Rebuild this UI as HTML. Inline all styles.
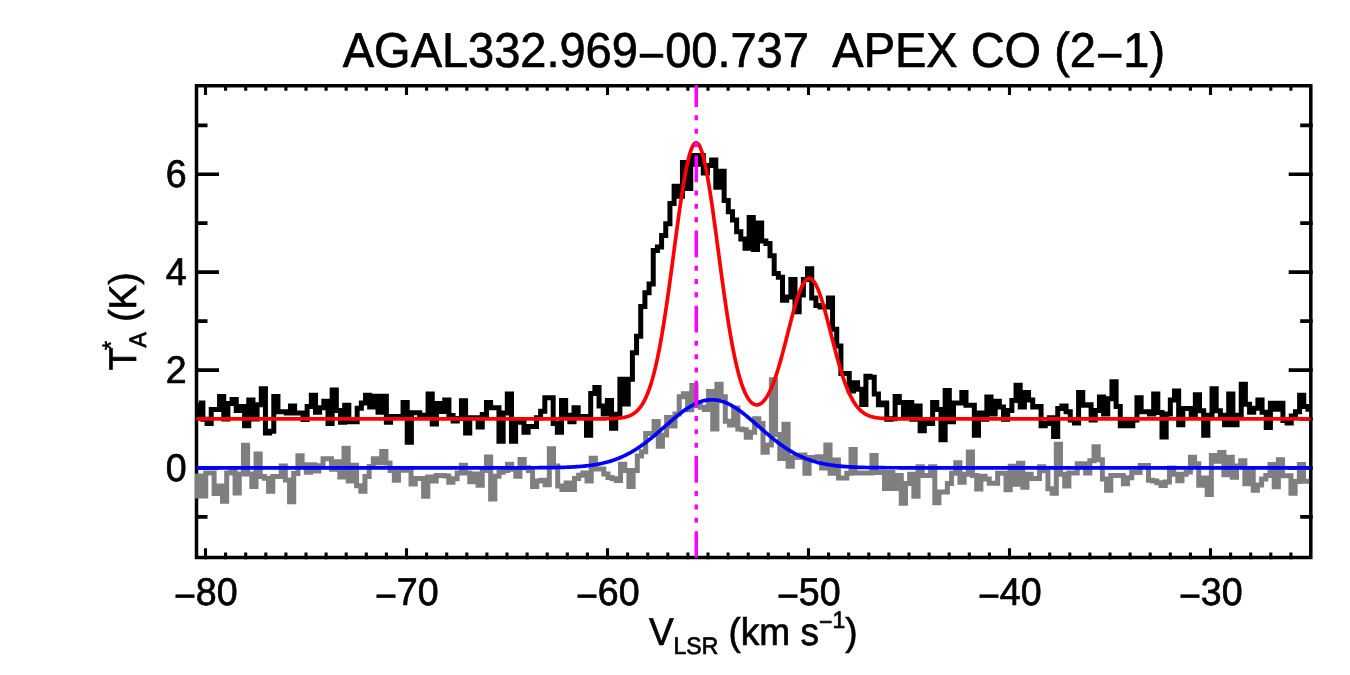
<!DOCTYPE html>
<html><head><meta charset="utf-8"><title>AGAL332.969-00.737 APEX CO (2-1)</title>
<style>
html,body{margin:0;padding:0;background:#fff;}
body{width:1350px;height:675px;overflow:hidden;}
svg{display:block;will-change:transform;transform:translateZ(0);}
text{font-family:"Liberation Sans",sans-serif;fill:#000;stroke:#000;stroke-width:0.7px;text-rendering:geometricPrecision;}
</style></head><body>
<svg width="1350" height="675" viewBox="0 0 1350 675">
<rect width="1350" height="675" fill="#fff"/>
<defs>
<clipPath id="cp"><rect x="194.3" y="84" width="1115" height="475.3"/></clipPath>
<clipPath id="cm"><rect x="190" y="85.3" width="20" height="472.4" transform="translate(496,0)"/></clipPath>
</defs>
<g transform="translate(342.8,66.6) scale(0.9744,1.015)"><text x="0" y="0" font-size="48.2" stroke="#000" stroke-width="0.9" xml:space="preserve">AGAL332.969<tspan dy="5">−</tspan><tspan dy="-5">00.737  APEX CO (2</tspan><tspan dy="5">−</tspan><tspan dy="-5">1)</tspan></text></g>
<rect x="196.5" y="85.75" width="1114.3" height="471.75" fill="none" stroke="#000" stroke-width="3.5"/>
<path d="M205.50,559.20v-11.00M205.50,84.00v11.00M225.60,559.20v-6.80M225.60,84.00v6.80M245.70,559.20v-6.80M245.70,84.00v6.80M265.80,559.20v-6.80M265.80,84.00v6.80M285.90,559.20v-6.80M285.90,84.00v6.80M306.00,559.20v-6.80M306.00,84.00v6.80M326.10,559.20v-6.80M326.10,84.00v6.80M346.20,559.20v-6.80M346.20,84.00v6.80M366.30,559.20v-6.80M366.30,84.00v6.80M386.40,559.20v-6.80M386.40,84.00v6.80M406.50,559.20v-11.00M406.50,84.00v11.00M426.60,559.20v-6.80M426.60,84.00v6.80M446.70,559.20v-6.80M446.70,84.00v6.80M466.80,559.20v-6.80M466.80,84.00v6.80M486.90,559.20v-6.80M486.90,84.00v6.80M507.00,559.20v-6.80M507.00,84.00v6.80M527.10,559.20v-6.80M527.10,84.00v6.80M547.20,559.20v-6.80M547.20,84.00v6.80M567.30,559.20v-6.80M567.30,84.00v6.80M587.40,559.20v-6.80M587.40,84.00v6.80M607.50,559.20v-11.00M607.50,84.00v11.00M627.60,559.20v-6.80M627.60,84.00v6.80M647.70,559.20v-6.80M647.70,84.00v6.80M667.80,559.20v-6.80M667.80,84.00v6.80M687.90,559.20v-6.80M687.90,84.00v6.80M708.00,559.20v-6.80M708.00,84.00v6.80M728.10,559.20v-6.80M728.10,84.00v6.80M748.20,559.20v-6.80M748.20,84.00v6.80M768.30,559.20v-6.80M768.30,84.00v6.80M788.40,559.20v-6.80M788.40,84.00v6.80M808.50,559.20v-11.00M808.50,84.00v11.00M828.60,559.20v-6.80M828.60,84.00v6.80M848.70,559.20v-6.80M848.70,84.00v6.80M868.80,559.20v-6.80M868.80,84.00v6.80M888.90,559.20v-6.80M888.90,84.00v6.80M909.00,559.20v-6.80M909.00,84.00v6.80M929.10,559.20v-6.80M929.10,84.00v6.80M949.20,559.20v-6.80M949.20,84.00v6.80M969.30,559.20v-6.80M969.30,84.00v6.80M989.40,559.20v-6.80M989.40,84.00v6.80M1009.50,559.20v-11.00M1009.50,84.00v11.00M1029.60,559.20v-6.80M1029.60,84.00v6.80M1049.70,559.20v-6.80M1049.70,84.00v6.80M1069.80,559.20v-6.80M1069.80,84.00v6.80M1089.90,559.20v-6.80M1089.90,84.00v6.80M1110.00,559.20v-6.80M1110.00,84.00v6.80M1130.10,559.20v-6.80M1130.10,84.00v6.80M1150.20,559.20v-6.80M1150.20,84.00v6.80M1170.30,559.20v-6.80M1170.30,84.00v6.80M1190.40,559.20v-6.80M1190.40,84.00v6.80M1210.50,559.20v-11.00M1210.50,84.00v11.00M1230.60,559.20v-6.80M1230.60,84.00v6.80M1250.70,559.20v-6.80M1250.70,84.00v6.80M1270.80,559.20v-6.80M1270.80,84.00v6.80M1290.90,559.20v-6.80M1290.90,84.00v6.80" stroke="#000" stroke-width="3.1" fill="none"/>
<path d="M195.00,516.90h12.50M1312.70,516.90h-12.50M195.00,467.95h24.00M1312.70,467.95h-24.00M195.00,419.00h12.50M1312.70,419.00h-12.50M195.00,370.05h24.00M1312.70,370.05h-24.00M195.00,321.10h12.50M1312.70,321.10h-12.50M195.00,272.15h24.00M1312.70,272.15h-24.00M195.00,223.20h12.50M1312.70,223.20h-12.50M195.00,174.25h24.00M1312.70,174.25h-24.00M195.00,125.30h12.50M1312.70,125.30h-12.50" stroke="#000" stroke-width="3.7" fill="none"/>
<g font-size="38.6"><text transform="translate(205.8,605.2) scale(0.975,1)" text-anchor="middle"><tspan dy="4">−</tspan><tspan dy="-4">80</tspan></text><text transform="translate(406.8,605.2) scale(0.975,1)" text-anchor="middle"><tspan dy="4">−</tspan><tspan dy="-4">70</tspan></text><text transform="translate(607.8,605.2) scale(0.975,1)" text-anchor="middle"><tspan dy="4">−</tspan><tspan dy="-4">60</tspan></text><text transform="translate(808.8,605.2) scale(0.975,1)" text-anchor="middle"><tspan dy="4">−</tspan><tspan dy="-4">50</tspan></text><text transform="translate(1009.8,605.2) scale(0.975,1)" text-anchor="middle"><tspan dy="4">−</tspan><tspan dy="-4">40</tspan></text><text transform="translate(1210.8,605.2) scale(0.975,1)" text-anchor="middle"><tspan dy="4">−</tspan><tspan dy="-4">30</tspan></text><text transform="translate(186.8,481.0) scale(0.975,1)" text-anchor="end">0</text><text transform="translate(186.8,383.1) scale(0.975,1)" text-anchor="end">2</text><text transform="translate(186.8,285.2) scale(0.975,1)" text-anchor="end">4</text><text transform="translate(186.8,187.3) scale(0.975,1)" text-anchor="end">6</text></g>
<g clip-path="url(#cp)" fill="none" stroke-linejoin="miter" stroke-linecap="butt">
<path d="M197.36,498.4V476.01H201.55V495.92H205.74V473.04H209.93V473.04H214.12V493.55H218.31V486.08H222.50V501.25H226.69V472.93H230.88V468.90H235.07V492.96H239.26V473.99H243.45V445.19H247.64V474.11H251.83V486.44H256.02V454.08H260.21V476.48H264.40V478.14H268.59V491.18H272.78V476.60H276.97V476.60H281.16V465.93H285.35V480.04H289.54V501.84H293.73V473.52H297.92V455.86H302.11V464.75H306.30V472.21H310.49V464.75H314.68V471.03H318.87V465.81H323.06V458.82H327.25V458.82H331.44V469.37H335.63V461.79H339.82V476.96H344.01V448.16H348.20V481.10H352.39V465.34H356.58V485.84H360.77V491.18H364.96V476.60H369.15V466.53H373.34V458.82H377.53V462.85H381.72V451.47H385.91V462.97H390.10V470.56H394.29V480.27H398.48V470.20H402.67V470.20H406.86V470.20H411.05V484.07H415.24V478.38H419.43V478.38H423.62V496.27H427.81V477.07H432.00V481.10H436.19V475.41H440.38V475.41H444.57V475.89H448.76V482.29H452.95V478.73H457.14V472.93H461.33V465.34H465.52V472.93H469.71V481.81H473.90V474.11H478.09V485.25H482.28V470.56H486.47V457.04H490.66V498.88H494.85V476.36H499.04V472.33H503.23V470.56H507.42V464.16H511.61V469.37H515.80V476.36H519.99V459.41H524.18V467.71H528.37V470.56H532.56V486.44H536.75V481.10H540.94V480.16H545.13V484.66H549.32V448.75H553.51V465.93H557.70V485.96H561.89V489.40H566.08V483.12H570.27V489.40H574.46V478.38H578.65V475.30H582.84V473.04H587.03V481.10H591.22V458.23H595.41V468.90H599.60V468.90H603.79V474.11H607.98V477.55H612.17V478.85H616.36V480.51H620.55V464.16H624.74V470.56H628.93V486.44H633.12V470.44H637.31V455.97H641.50V451.82H645.69V433.45H649.88V433.45H654.07V421.60H658.26V446.25H662.45V435.11H666.64V417.45H670.83V426.10H675.02V413.90H679.21V396.71H683.40V393.75H687.59V409.63H691.78V385.45H695.97V405.48H700.16V407.26H704.35V409.51H708.54V391.38H712.73V429.07H716.92V384.27H721.11V396.71H725.30V421.36H729.49V424.92H733.68V407.97H737.87V429.07H742.06V429.78H746.25V437.36H750.44V432.15H754.63V418.64H758.82V423.38H763.01V452.18H767.20V445.07H771.39V379.70H775.58V434.41H779.77V458.47H783.96V424.34H788.15V466.18H792.34V457.41H796.53V457.41H800.72V455.04H804.91V473.29H809.10V457.41H813.29V457.41H817.48V456.81H821.67V467.96H825.86V445.08H830.05V473.29H834.24V459.90H838.43V478.03H842.62V478.03H846.81V473.29H851.00V449.60H855.19V473.07H859.38V473.07H863.57V473.07H867.76V473.07H871.95V455.53H876.14V472.59H880.33V472.59H884.52V488.47H888.71V472.59H892.90V488.47H897.09V475.56H901.28V503.29H905.47V483.38H909.66V474.37H913.85V496.18H918.04V466.79H922.23V475.44H926.42V475.44H930.61V466.79H934.80V502.70H938.99V492.03H943.18V492.03H947.37V483.38H951.56V473.19H955.75V462.64H959.94V482.31H964.13V474.37H968.32V451.97H972.51V475.56H976.70V489.07H980.89V476.27H985.08V479.11H989.27V483.14H993.46V483.14H997.65V473.19H1001.84V473.19H1006.03V489.66H1010.22V466.19H1014.41V484.33H1018.60V463.23H1022.79V487.29H1026.98V474.37H1031.17V478.40H1035.36V478.40H1039.55V466.79H1043.74V470.81H1047.93V488.71H1052.12V493.21H1056.31V444.27H1060.50V474.37H1064.69V486.10H1068.88V473.07H1073.07V473.07H1077.26V463.82H1081.45V463.82H1085.64V473.07H1089.83V460.86H1094.02V446.64H1098.21V459.67H1102.40V478.99H1106.59V490.25H1110.78V475.56H1114.97V475.56H1119.16V475.56H1123.35V483.73H1127.54V477.81H1131.73V472.47H1135.92V472.47H1140.11V465.60H1144.30V465.60H1148.49V480.30H1152.68V480.89H1156.87V482.67H1161.06V485.51H1165.25V481.96H1169.44V467.97H1173.63V474.37H1177.82V480.77H1182.01V474.37H1186.20V472.00H1190.39V457.30H1194.58V463.82H1198.77V485.27H1202.96V478.04H1207.15V494.40H1211.34V455.53H1215.53V461.33H1219.72V452.56H1223.91V474.84H1228.10V457.30H1232.29V477.21H1236.48V466.07H1240.67V460.86H1244.86V483.73H1249.05V468.56H1253.24V490.25H1257.43V484.92H1261.62V478.99H1265.81V475.56H1270.00V464.41H1274.19V486.70H1278.38V459.67H1282.57V475.67H1286.76V475.67H1290.95V493.21H1295.14V481.48H1299.33V464.41H1303.52V481.36H1307.71V481.36H1311.90V481.36H1316.09" stroke="#7f7f7f" stroke-width="5"/>
<path d="M200.2,421V402.97H198.72V402.97H202.89V419.33H207.06V423.47H211.23V409.49H215.40V409.49H219.57V396.45H223.74V418.97H227.91V403.56H232.08V399.41H236.25V410.56H240.42V406.53H244.59V425.84H248.76V400.01H252.93V418.97H257.10V404.75H261.27V388.75H265.44V432.96H269.61V431.18H273.78V396.45H277.95V411.86H282.12V411.86H286.29V412.93H290.46V405.93H294.63V413.04H298.80V413.04H302.97V419.56H307.14V406.53H311.31V395.27H315.48V412.21H319.65V407.71H323.82V401.19H327.99V423.47H332.16V389.93H336.33V410.56H340.50V422.29H344.67V405.34H348.84V421.70H353.01V421.70H357.18V408.30H361.35V402.97H365.52V395.27H369.69V407.00H373.86V396.21H378.03V412.21H382.20V396.21H386.37V422.29H390.54V416.60H394.71V416.60H398.88V416.60H403.05V402.38H407.22V442.20H411.39V412.81H415.56V412.81H419.73V415.18H423.90V415.18H428.07V394.08H432.24V424.07H436.41V403.56H440.58V411.62H444.75V400.01H448.92V415.41H453.09V421.10H457.26V418.38H461.43V400.84H465.60V432.96H469.77V417.79H473.94V417.79H478.11V427.03H482.28V414.47H486.45V402.38H490.62V407.71H494.79V407.71H498.96V441.25H503.13V413.04H507.30V394.08H511.47V441.25H515.64V422.29H519.81V422.29H523.98V432.36H528.15V426.44H532.32V426.44H536.49V417.79H540.66V411.27H544.83V397.64H549.00V397.64H553.17V423.47H557.34V432.36H561.51V400.60H565.68V415.30H569.85V421.70H574.02V407.71H578.19V416.60H582.36V416.60H586.53V435.33H590.70V393.49H594.87V387.56H599.04V405.93H603.21V414.11H607.38V400.60H611.55V428.21H615.72V414.23H619.89V379.30H624.06V403.90H628.23V379.30H632.40V352.80H636.57V336.20H640.74V306.50H644.91V292.70H649.08V283.90H653.25V250.50H657.42V246.90H661.59V235.40H665.76V223.80H669.93V203.50H674.10V186.30H678.27V196.20H682.44V162.40H686.61V188.50H690.78V155.50H694.95V164.20H699.12V155.50H703.29V173.10H707.46V165.60H711.63V160.00H715.80V187.30H719.97V171.30H724.14V200.60H728.31V211.80H732.48V220.10H736.65V231.80H740.82V238.90H744.99V248.20H749.16V217.60H753.33V249.40H757.50V222.90H761.67V240.90H765.84V243.40H770.01V255.80H774.18V273.60H778.35V277.20H782.52V300.30H786.69V297.00H790.86V279.40H795.03V311.70H799.20V295.00H803.37V279.40H807.54V268.70H811.71V298.00H815.88V305.50H820.05V306.90H824.22V306.90H828.39V298.00H832.56V329.20H836.73V346.00H840.90V373.60H845.07V373.60H849.24V390.90H853.41V382.80H857.58V389.30H861.75V404.51H865.92V376.19H870.09V377.37H874.26V394.08H878.43V404.63H882.60V402.97H886.77V419.33H890.94V418.85H895.11V396.45H899.28V402.38H903.45V415.89H907.62V402.38H911.79V419.33H915.96V405.93H920.13V430.82H924.30V420.04H928.47V423.47H932.64V402.38H936.81V409.49H940.98V439.83H945.15V390.53H949.32V421.70H953.49V402.97H957.66V402.97H961.83V392.54H966.00V405.34H970.17V405.34H974.34V435.33H978.51V413.04H982.68V419.33H986.85V397.04H991.02V414.11H995.19V401.19H999.36V407.12H1003.53V419.33H1007.70V410.56H1011.87V400.60H1016.04V385.19H1020.21V406.88H1024.38V392.54H1028.55V400.01H1032.72V406.88H1036.89V406.53H1041.06V425.84H1045.23V423.47H1049.40V417.79H1053.57V436.51H1057.74V408.54H1061.91V405.93H1066.08V411.86H1070.25V420.04H1074.42V422.88H1078.59V392.54H1082.76V405.34H1086.93V404.75H1091.10V419.92H1095.27V410.56H1099.44V397.04H1103.61V414.11H1107.78V398.82H1111.95V381.64H1116.12V406.53H1120.29V425.84H1124.46V421.46H1128.63V425.84H1132.80V419.92H1136.97V397.64H1141.14V411.86H1145.31V411.86H1149.48V414.11H1153.65V394.08H1157.82V412.45H1161.99V437.10H1166.16V414.11H1170.33V400.01H1174.50V391.12H1178.67V424.66H1182.84V408.54H1187.01V408.54H1191.18V415.30H1195.35V394.67H1199.52V410.67H1203.69V435.33H1207.86V415.30H1212.03V388.75H1216.20V410.67H1220.37V415.30H1224.54V424.66H1228.71V394.08H1232.88V424.66H1237.05V415.30H1241.22V384.36H1245.39V404.16H1249.56V412.21H1253.73V408.19H1257.90V400.01H1262.07V412.21H1266.24V427.62H1270.41V403.33H1274.58V409.25H1278.75V403.33H1282.92V420.51H1287.09V422.88H1291.26V416.01H1295.43V411.86H1299.60V395.27H1303.77V406.41H1307.94V409.37H1312.11V409.37H1316.28" stroke="#000" stroke-width="5"/>
</g>
<g fill="none" stroke-linejoin="round" stroke-linecap="butt">
<path d="M196.50,418.85L197.50,418.85L198.50,418.85L199.50,418.85L200.50,418.85L201.50,418.85L202.50,418.85L203.50,418.85L204.50,418.85L205.50,418.85L206.50,418.85L207.50,418.85L208.50,418.85L209.50,418.85L210.50,418.85L211.50,418.85L212.50,418.85L213.50,418.85L214.50,418.85L215.50,418.85L216.50,418.85L217.50,418.85L218.50,418.85L219.50,418.85L220.50,418.85L221.50,418.85L222.50,418.85L223.50,418.85L224.50,418.85L225.50,418.85L226.50,418.85L227.50,418.85L228.50,418.85L229.50,418.85L230.50,418.85L231.50,418.85L232.50,418.85L233.50,418.85L234.50,418.85L235.50,418.85L236.50,418.85L237.50,418.85L238.50,418.85L239.50,418.85L240.50,418.85L241.50,418.85L242.50,418.85L243.50,418.85L244.50,418.85L245.50,418.85L246.50,418.85L247.50,418.85L248.50,418.85L249.50,418.85L250.50,418.85L251.50,418.85L252.50,418.85L253.50,418.85L254.50,418.85L255.50,418.85L256.50,418.85L257.50,418.85L258.50,418.85L259.50,418.85L260.50,418.85L261.50,418.85L262.50,418.85L263.50,418.85L264.50,418.85L265.50,418.85L266.50,418.85L267.50,418.85L268.50,418.85L269.50,418.85L270.50,418.85L271.50,418.85L272.50,418.85L273.50,418.85L274.50,418.85L275.50,418.85L276.50,418.85L277.50,418.85L278.50,418.85L279.50,418.85L280.50,418.85L281.50,418.85L282.50,418.85L283.50,418.85L284.50,418.85L285.50,418.85L286.50,418.85L287.50,418.85L288.50,418.85L289.50,418.85L290.50,418.85L291.50,418.85L292.50,418.85L293.50,418.85L294.50,418.85L295.50,418.85L296.50,418.85L297.50,418.85L298.50,418.85L299.50,418.85L300.50,418.85L301.50,418.85L302.50,418.85L303.50,418.85L304.50,418.85L305.50,418.85L306.50,418.85L307.50,418.85L308.50,418.85L309.50,418.85L310.50,418.85L311.50,418.85L312.50,418.85L313.50,418.85L314.50,418.85L315.50,418.85L316.50,418.85L317.50,418.85L318.50,418.85L319.50,418.85L320.50,418.85L321.50,418.85L322.50,418.85L323.50,418.85L324.50,418.85L325.50,418.85L326.50,418.85L327.50,418.85L328.50,418.85L329.50,418.85L330.50,418.85L331.50,418.85L332.50,418.85L333.50,418.85L334.50,418.85L335.50,418.85L336.50,418.85L337.50,418.85L338.50,418.85L339.50,418.85L340.50,418.85L341.50,418.85L342.50,418.85L343.50,418.85L344.50,418.85L345.50,418.85L346.50,418.85L347.50,418.85L348.50,418.85L349.50,418.85L350.50,418.85L351.50,418.85L352.50,418.85L353.50,418.85L354.50,418.85L355.50,418.85L356.50,418.85L357.50,418.85L358.50,418.85L359.50,418.85L360.50,418.85L361.50,418.85L362.50,418.85L363.50,418.85L364.50,418.85L365.50,418.85L366.50,418.85L367.50,418.85L368.50,418.85L369.50,418.85L370.50,418.85L371.50,418.85L372.50,418.85L373.50,418.85L374.50,418.85L375.50,418.85L376.50,418.85L377.50,418.85L378.50,418.85L379.50,418.85L380.50,418.85L381.50,418.85L382.50,418.85L383.50,418.85L384.50,418.85L385.50,418.85L386.50,418.85L387.50,418.85L388.50,418.85L389.50,418.85L390.50,418.85L391.50,418.85L392.50,418.85L393.50,418.85L394.50,418.85L395.50,418.85L396.50,418.85L397.50,418.85L398.50,418.85L399.50,418.85L400.50,418.85L401.50,418.85L402.50,418.85L403.50,418.85L404.50,418.85L405.50,418.85L406.50,418.85L407.50,418.85L408.50,418.85L409.50,418.85L410.50,418.85L411.50,418.85L412.50,418.85L413.50,418.85L414.50,418.85L415.50,418.85L416.50,418.85L417.50,418.85L418.50,418.85L419.50,418.85L420.50,418.85L421.50,418.85L422.50,418.85L423.50,418.85L424.50,418.85L425.50,418.85L426.50,418.85L427.50,418.85L428.50,418.85L429.50,418.85L430.50,418.85L431.50,418.85L432.50,418.85L433.50,418.85L434.50,418.85L435.50,418.85L436.50,418.85L437.50,418.85L438.50,418.85L439.50,418.85L440.50,418.85L441.50,418.85L442.50,418.85L443.50,418.85L444.50,418.85L445.50,418.85L446.50,418.85L447.50,418.85L448.50,418.85L449.50,418.85L450.50,418.85L451.50,418.85L452.50,418.85L453.50,418.85L454.50,418.85L455.50,418.85L456.50,418.85L457.50,418.85L458.50,418.85L459.50,418.85L460.50,418.85L461.50,418.85L462.50,418.85L463.50,418.85L464.50,418.85L465.50,418.85L466.50,418.85L467.50,418.85L468.50,418.85L469.50,418.85L470.50,418.85L471.50,418.85L472.50,418.85L473.50,418.85L474.50,418.85L475.50,418.85L476.50,418.85L477.50,418.85L478.50,418.85L479.50,418.85L480.50,418.85L481.50,418.85L482.50,418.85L483.50,418.85L484.50,418.85L485.50,418.85L486.50,418.85L487.50,418.85L488.50,418.85L489.50,418.85L490.50,418.85L491.50,418.85L492.50,418.85L493.50,418.85L494.50,418.85L495.50,418.85L496.50,418.85L497.50,418.85L498.50,418.85L499.50,418.85L500.50,418.85L501.50,418.85L502.50,418.85L503.50,418.85L504.50,418.85L505.50,418.85L506.50,418.85L507.50,418.85L508.50,418.85L509.50,418.85L510.50,418.85L511.50,418.85L512.50,418.85L513.50,418.85L514.50,418.85L515.50,418.85L516.50,418.85L517.50,418.85L518.50,418.85L519.50,418.85L520.50,418.85L521.50,418.85L522.50,418.85L523.50,418.85L524.50,418.85L525.50,418.85L526.50,418.85L527.50,418.85L528.50,418.85L529.50,418.85L530.50,418.85L531.50,418.85L532.50,418.85L533.50,418.85L534.50,418.85L535.50,418.85L536.50,418.85L537.50,418.85L538.50,418.85L539.50,418.85L540.50,418.85L541.50,418.85L542.50,418.85L543.50,418.85L544.50,418.85L545.50,418.85L546.50,418.85L547.50,418.85L548.50,418.85L549.50,418.85L550.50,418.85L551.50,418.85L552.50,418.85L553.50,418.85L554.50,418.85L555.50,418.85L556.50,418.85L557.50,418.85L558.50,418.85L559.50,418.85L560.50,418.85L561.50,418.85L562.50,418.85L563.50,418.85L564.50,418.85L565.50,418.85L566.50,418.85L567.50,418.85L568.50,418.85L569.50,418.85L570.50,418.85L571.50,418.85L572.50,418.85L573.50,418.85L574.50,418.85L575.50,418.85L576.50,418.85L577.50,418.85L578.50,418.85L579.50,418.85L580.50,418.85L581.50,418.85L582.50,418.85L583.50,418.85L584.50,418.85L585.50,418.85L586.50,418.85L587.50,418.85L588.50,418.85L589.50,418.85L590.50,418.85L591.50,418.85L592.50,418.84L593.50,418.84L594.50,418.84L595.50,418.84L596.50,418.84L597.50,418.84L598.50,418.83L599.50,418.83L600.50,418.82L601.50,418.82L602.50,418.81L603.50,418.80L604.50,418.79L605.50,418.78L606.50,418.77L607.50,418.75L608.50,418.74L609.50,418.71L610.50,418.69L611.50,418.66L612.50,418.62L613.50,418.58L614.50,418.53L615.50,418.47L616.50,418.40L617.50,418.33L618.50,418.24L619.50,418.13L620.50,418.01L621.50,417.88L622.50,417.72L623.50,417.54L624.50,417.33L625.50,417.09L626.50,416.83L627.50,416.52L628.50,416.18L629.50,415.79L630.50,415.35L631.50,414.85L632.50,414.30L633.50,413.68L634.50,412.98L635.50,412.21L636.50,411.35L637.50,410.39L638.50,409.33L639.50,408.16L640.50,406.88L641.50,405.46L642.50,403.91L643.50,402.21L644.50,400.35L645.50,398.33L646.50,396.14L647.50,393.76L648.50,391.18L649.50,388.41L650.50,385.42L651.50,382.22L652.50,378.79L653.50,375.13L654.50,371.23L655.50,367.09L656.50,362.70L657.50,358.07L658.50,353.18L659.50,348.05L660.50,342.66L661.50,337.04L662.50,331.18L663.50,325.09L664.50,318.77L665.50,312.25L666.50,305.53L667.50,298.64L668.50,291.58L669.50,284.38L670.50,277.07L671.50,269.65L672.50,262.17L673.50,254.65L674.50,247.11L675.50,239.59L676.50,232.12L677.50,224.73L678.50,217.46L679.50,210.34L680.50,203.40L681.50,196.69L682.50,190.23L683.50,184.05L684.50,178.20L685.50,172.71L686.50,167.59L687.50,162.89L688.50,158.64L689.50,154.84L690.50,151.53L691.50,148.73L692.50,146.46L693.50,144.72L694.50,143.52L695.50,142.89L696.50,142.81L697.50,143.29L698.50,144.32L699.50,145.91L700.50,148.04L701.50,150.69L702.50,153.86L703.50,157.52L704.50,161.65L705.50,166.22L706.50,171.22L707.50,176.61L708.50,182.37L709.50,188.45L710.50,194.83L711.50,201.48L712.50,208.35L713.50,215.43L714.50,222.66L715.50,230.01L716.50,237.46L717.50,244.97L718.50,252.50L719.50,260.03L720.50,267.52L721.50,274.95L722.50,282.29L723.50,289.51L724.50,296.60L725.50,303.53L726.50,310.29L727.50,316.85L728.50,323.20L729.50,329.33L730.50,335.23L731.50,340.89L732.50,346.30L733.50,351.46L734.50,356.36L735.50,361.01L736.50,365.40L737.50,369.53L738.50,373.40L739.50,377.02L740.50,380.40L741.50,383.52L742.50,386.41L743.50,389.06L744.50,391.49L745.50,393.69L746.50,395.67L747.50,397.45L748.50,399.02L749.50,400.39L750.50,401.57L751.50,402.57L752.50,403.38L753.50,404.01L754.50,404.47L755.50,404.76L756.50,404.88L757.50,404.84L758.50,404.63L759.50,404.27L760.50,403.74L761.50,403.06L762.50,402.22L763.50,401.22L764.50,400.06L765.50,398.75L766.50,397.28L767.50,395.65L768.50,393.86L769.50,391.92L770.50,389.82L771.50,387.57L772.50,385.17L773.50,382.61L774.50,379.91L775.50,377.06L776.50,374.08L777.50,370.96L778.50,367.71L779.50,364.35L780.50,360.87L781.50,357.29L782.50,353.62L783.50,349.87L784.50,346.06L785.50,342.19L786.50,338.28L787.50,334.36L788.50,330.42L789.50,326.51L790.50,322.62L791.50,318.78L792.50,315.00L793.50,311.32L794.50,307.74L795.50,304.28L796.50,300.97L797.50,297.83L798.50,294.87L799.50,292.10L800.50,289.55L801.50,287.23L802.50,285.16L803.50,283.34L804.50,281.79L805.50,280.52L806.50,279.54L807.50,278.85L808.50,278.46L809.50,278.37L810.50,278.58L811.50,279.09L812.50,279.89L813.50,280.99L814.50,282.37L815.50,284.02L816.50,285.94L817.50,288.11L818.50,290.53L819.50,293.16L820.50,296.01L821.50,299.05L822.50,302.26L823.50,305.63L824.50,309.14L825.50,312.77L826.50,316.50L827.50,320.30L828.50,324.17L829.50,328.08L830.50,332.02L831.50,335.96L832.50,339.89L833.50,343.80L834.50,347.67L835.50,351.48L836.50,355.22L837.50,358.89L838.50,362.46L839.50,365.94L840.50,369.30L841.50,372.56L842.50,375.69L843.50,378.69L844.50,381.57L845.50,384.31L846.50,386.92L847.50,389.40L848.50,391.74L849.50,393.95L850.50,396.03L851.50,397.98L852.50,399.80L853.50,401.51L854.50,403.09L855.50,404.56L856.50,405.92L857.50,407.17L858.50,408.33L859.50,409.39L860.50,410.37L861.50,411.26L862.50,412.07L863.50,412.80L864.50,413.47L865.50,414.08L866.50,414.62L867.50,415.11L868.50,415.56L869.50,415.95L870.50,416.30L871.50,416.62L872.50,416.90L873.50,417.15L874.50,417.37L875.50,417.56L876.50,417.73L877.50,417.88L878.50,418.02L879.50,418.13L880.50,418.23L881.50,418.32L882.50,418.40L883.50,418.46L884.50,418.52L885.50,418.57L886.50,418.61L887.50,418.65L888.50,418.68L889.50,418.71L890.50,418.73L891.50,418.75L892.50,418.77L893.50,418.78L894.50,418.79L895.50,418.80L896.50,418.81L897.50,418.82L898.50,418.82L899.50,418.83L900.50,418.83L901.50,418.83L902.50,418.84L903.50,418.84L904.50,418.84L905.50,418.84L906.50,418.84L907.50,418.85L908.50,418.85L909.50,418.85L910.50,418.85L911.50,418.85L912.50,418.85L913.50,418.85L914.50,418.85L915.50,418.85L916.50,418.85L917.50,418.85L918.50,418.85L919.50,418.85L920.50,418.85L921.50,418.85L922.50,418.85L923.50,418.85L924.50,418.85L925.50,418.85L926.50,418.85L927.50,418.85L928.50,418.85L929.50,418.85L930.50,418.85L931.50,418.85L932.50,418.85L933.50,418.85L934.50,418.85L935.50,418.85L936.50,418.85L937.50,418.85L938.50,418.85L939.50,418.85L940.50,418.85L941.50,418.85L942.50,418.85L943.50,418.85L944.50,418.85L945.50,418.85L946.50,418.85L947.50,418.85L948.50,418.85L949.50,418.85L950.50,418.85L951.50,418.85L952.50,418.85L953.50,418.85L954.50,418.85L955.50,418.85L956.50,418.85L957.50,418.85L958.50,418.85L959.50,418.85L960.50,418.85L961.50,418.85L962.50,418.85L963.50,418.85L964.50,418.85L965.50,418.85L966.50,418.85L967.50,418.85L968.50,418.85L969.50,418.85L970.50,418.85L971.50,418.85L972.50,418.85L973.50,418.85L974.50,418.85L975.50,418.85L976.50,418.85L977.50,418.85L978.50,418.85L979.50,418.85L980.50,418.85L981.50,418.85L982.50,418.85L983.50,418.85L984.50,418.85L985.50,418.85L986.50,418.85L987.50,418.85L988.50,418.85L989.50,418.85L990.50,418.85L991.50,418.85L992.50,418.85L993.50,418.85L994.50,418.85L995.50,418.85L996.50,418.85L997.50,418.85L998.50,418.85L999.50,418.85L1000.50,418.85L1001.50,418.85L1002.50,418.85L1003.50,418.85L1004.50,418.85L1005.50,418.85L1006.50,418.85L1007.50,418.85L1008.50,418.85L1009.50,418.85L1010.50,418.85L1011.50,418.85L1012.50,418.85L1013.50,418.85L1014.50,418.85L1015.50,418.85L1016.50,418.85L1017.50,418.85L1018.50,418.85L1019.50,418.85L1020.50,418.85L1021.50,418.85L1022.50,418.85L1023.50,418.85L1024.50,418.85L1025.50,418.85L1026.50,418.85L1027.50,418.85L1028.50,418.85L1029.50,418.85L1030.50,418.85L1031.50,418.85L1032.50,418.85L1033.50,418.85L1034.50,418.85L1035.50,418.85L1036.50,418.85L1037.50,418.85L1038.50,418.85L1039.50,418.85L1040.50,418.85L1041.50,418.85L1042.50,418.85L1043.50,418.85L1044.50,418.85L1045.50,418.85L1046.50,418.85L1047.50,418.85L1048.50,418.85L1049.50,418.85L1050.50,418.85L1051.50,418.85L1052.50,418.85L1053.50,418.85L1054.50,418.85L1055.50,418.85L1056.50,418.85L1057.50,418.85L1058.50,418.85L1059.50,418.85L1060.50,418.85L1061.50,418.85L1062.50,418.85L1063.50,418.85L1064.50,418.85L1065.50,418.85L1066.50,418.85L1067.50,418.85L1068.50,418.85L1069.50,418.85L1070.50,418.85L1071.50,418.85L1072.50,418.85L1073.50,418.85L1074.50,418.85L1075.50,418.85L1076.50,418.85L1077.50,418.85L1078.50,418.85L1079.50,418.85L1080.50,418.85L1081.50,418.85L1082.50,418.85L1083.50,418.85L1084.50,418.85L1085.50,418.85L1086.50,418.85L1087.50,418.85L1088.50,418.85L1089.50,418.85L1090.50,418.85L1091.50,418.85L1092.50,418.85L1093.50,418.85L1094.50,418.85L1095.50,418.85L1096.50,418.85L1097.50,418.85L1098.50,418.85L1099.50,418.85L1100.50,418.85L1101.50,418.85L1102.50,418.85L1103.50,418.85L1104.50,418.85L1105.50,418.85L1106.50,418.85L1107.50,418.85L1108.50,418.85L1109.50,418.85L1110.50,418.85L1111.50,418.85L1112.50,418.85L1113.50,418.85L1114.50,418.85L1115.50,418.85L1116.50,418.85L1117.50,418.85L1118.50,418.85L1119.50,418.85L1120.50,418.85L1121.50,418.85L1122.50,418.85L1123.50,418.85L1124.50,418.85L1125.50,418.85L1126.50,418.85L1127.50,418.85L1128.50,418.85L1129.50,418.85L1130.50,418.85L1131.50,418.85L1132.50,418.85L1133.50,418.85L1134.50,418.85L1135.50,418.85L1136.50,418.85L1137.50,418.85L1138.50,418.85L1139.50,418.85L1140.50,418.85L1141.50,418.85L1142.50,418.85L1143.50,418.85L1144.50,418.85L1145.50,418.85L1146.50,418.85L1147.50,418.85L1148.50,418.85L1149.50,418.85L1150.50,418.85L1151.50,418.85L1152.50,418.85L1153.50,418.85L1154.50,418.85L1155.50,418.85L1156.50,418.85L1157.50,418.85L1158.50,418.85L1159.50,418.85L1160.50,418.85L1161.50,418.85L1162.50,418.85L1163.50,418.85L1164.50,418.85L1165.50,418.85L1166.50,418.85L1167.50,418.85L1168.50,418.85L1169.50,418.85L1170.50,418.85L1171.50,418.85L1172.50,418.85L1173.50,418.85L1174.50,418.85L1175.50,418.85L1176.50,418.85L1177.50,418.85L1178.50,418.85L1179.50,418.85L1180.50,418.85L1181.50,418.85L1182.50,418.85L1183.50,418.85L1184.50,418.85L1185.50,418.85L1186.50,418.85L1187.50,418.85L1188.50,418.85L1189.50,418.85L1190.50,418.85L1191.50,418.85L1192.50,418.85L1193.50,418.85L1194.50,418.85L1195.50,418.85L1196.50,418.85L1197.50,418.85L1198.50,418.85L1199.50,418.85L1200.50,418.85L1201.50,418.85L1202.50,418.85L1203.50,418.85L1204.50,418.85L1205.50,418.85L1206.50,418.85L1207.50,418.85L1208.50,418.85L1209.50,418.85L1210.50,418.85L1211.50,418.85L1212.50,418.85L1213.50,418.85L1214.50,418.85L1215.50,418.85L1216.50,418.85L1217.50,418.85L1218.50,418.85L1219.50,418.85L1220.50,418.85L1221.50,418.85L1222.50,418.85L1223.50,418.85L1224.50,418.85L1225.50,418.85L1226.50,418.85L1227.50,418.85L1228.50,418.85L1229.50,418.85L1230.50,418.85L1231.50,418.85L1232.50,418.85L1233.50,418.85L1234.50,418.85L1235.50,418.85L1236.50,418.85L1237.50,418.85L1238.50,418.85L1239.50,418.85L1240.50,418.85L1241.50,418.85L1242.50,418.85L1243.50,418.85L1244.50,418.85L1245.50,418.85L1246.50,418.85L1247.50,418.85L1248.50,418.85L1249.50,418.85L1250.50,418.85L1251.50,418.85L1252.50,418.85L1253.50,418.85L1254.50,418.85L1255.50,418.85L1256.50,418.85L1257.50,418.85L1258.50,418.85L1259.50,418.85L1260.50,418.85L1261.50,418.85L1262.50,418.85L1263.50,418.85L1264.50,418.85L1265.50,418.85L1266.50,418.85L1267.50,418.85L1268.50,418.85L1269.50,418.85L1270.50,418.85L1271.50,418.85L1272.50,418.85L1273.50,418.85L1274.50,418.85L1275.50,418.85L1276.50,418.85L1277.50,418.85L1278.50,418.85L1279.50,418.85L1280.50,418.85L1281.50,418.85L1282.50,418.85L1283.50,418.85L1284.50,418.85L1285.50,418.85L1286.50,418.85L1287.50,418.85L1288.50,418.85L1289.50,418.85L1290.50,418.85L1291.50,418.85L1292.50,418.85L1293.50,418.85L1294.50,418.85L1295.50,418.85L1296.50,418.85L1297.50,418.85L1298.50,418.85L1299.50,418.85L1300.50,418.85L1301.50,418.85L1302.50,418.85L1303.50,418.85L1304.50,418.85L1305.50,418.85L1306.50,418.85L1307.50,418.85L1308.50,418.85L1309.50,418.85L1310.50,418.85" stroke="#ff0000" stroke-width="3.7"/>
<path d="M196.50,467.80L197.50,467.80L198.50,467.80L199.50,467.80L200.50,467.80L201.50,467.80L202.50,467.80L203.50,467.80L204.50,467.80L205.50,467.80L206.50,467.80L207.50,467.80L208.50,467.80L209.50,467.80L210.50,467.80L211.50,467.80L212.50,467.80L213.50,467.80L214.50,467.80L215.50,467.80L216.50,467.80L217.50,467.80L218.50,467.80L219.50,467.80L220.50,467.80L221.50,467.80L222.50,467.80L223.50,467.80L224.50,467.80L225.50,467.80L226.50,467.80L227.50,467.80L228.50,467.80L229.50,467.80L230.50,467.80L231.50,467.80L232.50,467.80L233.50,467.80L234.50,467.80L235.50,467.80L236.50,467.80L237.50,467.80L238.50,467.80L239.50,467.80L240.50,467.80L241.50,467.80L242.50,467.80L243.50,467.80L244.50,467.80L245.50,467.80L246.50,467.80L247.50,467.80L248.50,467.80L249.50,467.80L250.50,467.80L251.50,467.80L252.50,467.80L253.50,467.80L254.50,467.80L255.50,467.80L256.50,467.80L257.50,467.80L258.50,467.80L259.50,467.80L260.50,467.80L261.50,467.80L262.50,467.80L263.50,467.80L264.50,467.80L265.50,467.80L266.50,467.80L267.50,467.80L268.50,467.80L269.50,467.80L270.50,467.80L271.50,467.80L272.50,467.80L273.50,467.80L274.50,467.80L275.50,467.80L276.50,467.80L277.50,467.80L278.50,467.80L279.50,467.80L280.50,467.80L281.50,467.80L282.50,467.80L283.50,467.80L284.50,467.80L285.50,467.80L286.50,467.80L287.50,467.80L288.50,467.80L289.50,467.80L290.50,467.80L291.50,467.80L292.50,467.80L293.50,467.80L294.50,467.80L295.50,467.80L296.50,467.80L297.50,467.80L298.50,467.80L299.50,467.80L300.50,467.80L301.50,467.80L302.50,467.80L303.50,467.80L304.50,467.80L305.50,467.80L306.50,467.80L307.50,467.80L308.50,467.80L309.50,467.80L310.50,467.80L311.50,467.80L312.50,467.80L313.50,467.80L314.50,467.80L315.50,467.80L316.50,467.80L317.50,467.80L318.50,467.80L319.50,467.80L320.50,467.80L321.50,467.80L322.50,467.80L323.50,467.80L324.50,467.80L325.50,467.80L326.50,467.80L327.50,467.80L328.50,467.80L329.50,467.80L330.50,467.80L331.50,467.80L332.50,467.80L333.50,467.80L334.50,467.80L335.50,467.80L336.50,467.80L337.50,467.80L338.50,467.80L339.50,467.80L340.50,467.80L341.50,467.80L342.50,467.80L343.50,467.80L344.50,467.80L345.50,467.80L346.50,467.80L347.50,467.80L348.50,467.80L349.50,467.80L350.50,467.80L351.50,467.80L352.50,467.80L353.50,467.80L354.50,467.80L355.50,467.80L356.50,467.80L357.50,467.80L358.50,467.80L359.50,467.80L360.50,467.80L361.50,467.80L362.50,467.80L363.50,467.80L364.50,467.80L365.50,467.80L366.50,467.80L367.50,467.80L368.50,467.80L369.50,467.80L370.50,467.80L371.50,467.80L372.50,467.80L373.50,467.80L374.50,467.80L375.50,467.80L376.50,467.80L377.50,467.80L378.50,467.80L379.50,467.80L380.50,467.80L381.50,467.80L382.50,467.80L383.50,467.80L384.50,467.80L385.50,467.80L386.50,467.80L387.50,467.80L388.50,467.80L389.50,467.80L390.50,467.80L391.50,467.80L392.50,467.80L393.50,467.80L394.50,467.80L395.50,467.80L396.50,467.80L397.50,467.80L398.50,467.80L399.50,467.80L400.50,467.80L401.50,467.80L402.50,467.80L403.50,467.80L404.50,467.80L405.50,467.80L406.50,467.80L407.50,467.80L408.50,467.80L409.50,467.80L410.50,467.80L411.50,467.80L412.50,467.80L413.50,467.80L414.50,467.80L415.50,467.80L416.50,467.80L417.50,467.80L418.50,467.80L419.50,467.80L420.50,467.80L421.50,467.80L422.50,467.80L423.50,467.80L424.50,467.80L425.50,467.80L426.50,467.80L427.50,467.80L428.50,467.80L429.50,467.80L430.50,467.80L431.50,467.80L432.50,467.80L433.50,467.80L434.50,467.80L435.50,467.80L436.50,467.80L437.50,467.80L438.50,467.80L439.50,467.80L440.50,467.80L441.50,467.80L442.50,467.80L443.50,467.80L444.50,467.80L445.50,467.80L446.50,467.80L447.50,467.80L448.50,467.80L449.50,467.80L450.50,467.80L451.50,467.80L452.50,467.80L453.50,467.80L454.50,467.80L455.50,467.80L456.50,467.80L457.50,467.80L458.50,467.80L459.50,467.80L460.50,467.80L461.50,467.80L462.50,467.80L463.50,467.80L464.50,467.80L465.50,467.80L466.50,467.80L467.50,467.80L468.50,467.80L469.50,467.80L470.50,467.80L471.50,467.80L472.50,467.80L473.50,467.80L474.50,467.80L475.50,467.80L476.50,467.80L477.50,467.80L478.50,467.80L479.50,467.80L480.50,467.80L481.50,467.80L482.50,467.80L483.50,467.80L484.50,467.80L485.50,467.80L486.50,467.80L487.50,467.80L488.50,467.80L489.50,467.80L490.50,467.80L491.50,467.80L492.50,467.80L493.50,467.80L494.50,467.80L495.50,467.80L496.50,467.80L497.50,467.80L498.50,467.80L499.50,467.80L500.50,467.80L501.50,467.80L502.50,467.80L503.50,467.80L504.50,467.80L505.50,467.80L506.50,467.80L507.50,467.79L508.50,467.79L509.50,467.79L510.50,467.79L511.50,467.79L512.50,467.79L513.50,467.79L514.50,467.79L515.50,467.79L516.50,467.79L517.50,467.79L518.50,467.79L519.50,467.78L520.50,467.78L521.50,467.78L522.50,467.78L523.50,467.78L524.50,467.78L525.50,467.77L526.50,467.77L527.50,467.77L528.50,467.77L529.50,467.76L530.50,467.76L531.50,467.76L532.50,467.75L533.50,467.75L534.50,467.74L535.50,467.74L536.50,467.74L537.50,467.73L538.50,467.72L539.50,467.72L540.50,467.71L541.50,467.70L542.50,467.70L543.50,467.69L544.50,467.68L545.50,467.67L546.50,467.66L547.50,467.65L548.50,467.64L549.50,467.63L550.50,467.61L551.50,467.60L552.50,467.58L553.50,467.57L554.50,467.55L555.50,467.53L556.50,467.51L557.50,467.49L558.50,467.47L559.50,467.44L560.50,467.42L561.50,467.39L562.50,467.36L563.50,467.33L564.50,467.30L565.50,467.27L566.50,467.23L567.50,467.19L568.50,467.15L569.50,467.11L570.50,467.06L571.50,467.01L572.50,466.96L573.50,466.91L574.50,466.85L575.50,466.79L576.50,466.72L577.50,466.66L578.50,466.58L579.50,466.51L580.50,466.43L581.50,466.34L582.50,466.26L583.50,466.16L584.50,466.07L585.50,465.96L586.50,465.86L587.50,465.74L588.50,465.63L589.50,465.50L590.50,465.37L591.50,465.23L592.50,465.09L593.50,464.94L594.50,464.78L595.50,464.62L596.50,464.45L597.50,464.27L598.50,464.08L599.50,463.89L600.50,463.69L601.50,463.47L602.50,463.25L603.50,463.02L604.50,462.78L605.50,462.54L606.50,462.28L607.50,462.01L608.50,461.73L609.50,461.44L610.50,461.14L611.50,460.83L612.50,460.51L613.50,460.17L614.50,459.83L615.50,459.47L616.50,459.10L617.50,458.72L618.50,458.33L619.50,457.92L620.50,457.50L621.50,457.07L622.50,456.62L623.50,456.16L624.50,455.69L625.50,455.21L626.50,454.71L627.50,454.20L628.50,453.67L629.50,453.13L630.50,452.58L631.50,452.01L632.50,451.43L633.50,450.83L634.50,450.22L635.50,449.60L636.50,448.97L637.50,448.32L638.50,447.65L639.50,446.98L640.50,446.29L641.50,445.59L642.50,444.88L643.50,444.15L644.50,443.41L645.50,442.66L646.50,441.90L647.50,441.13L648.50,440.35L649.50,439.56L650.50,438.76L651.50,437.95L652.50,437.13L653.50,436.30L654.50,435.46L655.50,434.62L656.50,433.77L657.50,432.91L658.50,432.05L659.50,431.19L660.50,430.32L661.50,429.45L662.50,428.57L663.50,427.69L664.50,426.82L665.50,425.94L666.50,425.06L667.50,424.18L668.50,423.31L669.50,422.44L670.50,421.57L671.50,420.71L672.50,419.85L673.50,419.00L674.50,418.16L675.50,417.33L676.50,416.50L677.50,415.69L678.50,414.88L679.50,414.09L680.50,413.31L681.50,412.54L682.50,411.79L683.50,411.06L684.50,410.34L685.50,409.64L686.50,408.95L687.50,408.29L688.50,407.64L689.50,407.02L690.50,406.41L691.50,405.83L692.50,405.27L693.50,404.74L694.50,404.23L695.50,403.74L696.50,403.28L697.50,402.85L698.50,402.44L699.50,402.06L700.50,401.70L701.50,401.38L702.50,401.08L703.50,400.82L704.50,400.58L705.50,400.37L706.50,400.19L707.50,400.05L708.50,399.93L709.50,399.84L710.50,399.79L711.50,399.76L712.50,399.77L713.50,399.80L714.50,399.87L715.50,399.97L716.50,400.10L717.50,400.25L718.50,400.44L719.50,400.66L720.50,400.91L721.50,401.19L722.50,401.49L723.50,401.83L724.50,402.19L725.50,402.58L726.50,403.00L727.50,403.44L728.50,403.91L729.50,404.41L730.50,404.93L731.50,405.47L732.50,406.04L733.50,406.63L734.50,407.24L735.50,407.87L736.50,408.53L737.50,409.20L738.50,409.89L739.50,410.60L740.50,411.32L741.50,412.06L742.50,412.82L743.50,413.59L744.50,414.37L745.50,415.17L746.50,415.98L747.50,416.80L748.50,417.63L749.50,418.46L750.50,419.31L751.50,420.16L752.50,421.02L753.50,421.89L754.50,422.75L755.50,423.63L756.50,424.50L757.50,425.38L758.50,426.26L759.50,427.13L760.50,428.01L761.50,428.89L762.50,429.76L763.50,430.63L764.50,431.50L765.50,432.37L766.50,433.22L767.50,434.08L768.50,434.92L769.50,435.77L770.50,436.60L771.50,437.42L772.50,438.24L773.50,439.05L774.50,439.85L775.50,440.63L776.50,441.41L777.50,442.18L778.50,442.94L779.50,443.68L780.50,444.41L781.50,445.14L782.50,445.84L783.50,446.54L784.50,447.22L785.50,447.90L786.50,448.55L787.50,449.20L788.50,449.83L789.50,450.44L790.50,451.05L791.50,451.64L792.50,452.21L793.50,452.78L794.50,453.33L795.50,453.86L796.50,454.38L797.50,454.89L798.50,455.38L799.50,455.86L800.50,456.33L801.50,456.79L802.50,457.23L803.50,457.65L804.50,458.07L805.50,458.47L806.50,458.86L807.50,459.24L808.50,459.60L809.50,459.96L810.50,460.30L811.50,460.63L812.50,460.94L813.50,461.25L814.50,461.55L815.50,461.83L816.50,462.11L817.50,462.37L818.50,462.63L819.50,462.87L820.50,463.11L821.50,463.33L822.50,463.55L823.50,463.76L824.50,463.96L825.50,464.15L826.50,464.34L827.50,464.51L828.50,464.68L829.50,464.84L830.50,465.00L831.50,465.14L832.50,465.28L833.50,465.42L834.50,465.55L835.50,465.67L836.50,465.79L837.50,465.90L838.50,466.00L839.50,466.10L840.50,466.20L841.50,466.29L842.50,466.38L843.50,466.46L844.50,466.54L845.50,466.61L846.50,466.68L847.50,466.75L848.50,466.81L849.50,466.87L850.50,466.93L851.50,466.98L852.50,467.03L853.50,467.08L854.50,467.12L855.50,467.16L856.50,467.20L857.50,467.24L858.50,467.28L859.50,467.31L860.50,467.34L861.50,467.37L862.50,467.40L863.50,467.43L864.50,467.45L865.50,467.48L866.50,467.50L867.50,467.52L868.50,467.54L869.50,467.56L870.50,467.57L871.50,467.59L872.50,467.60L873.50,467.62L874.50,467.63L875.50,467.64L876.50,467.65L877.50,467.66L878.50,467.67L879.50,467.68L880.50,467.69L881.50,467.70L882.50,467.71L883.50,467.71L884.50,467.72L885.50,467.73L886.50,467.73L887.50,467.74L888.50,467.74L889.50,467.75L890.50,467.75L891.50,467.75L892.50,467.76L893.50,467.76L894.50,467.76L895.50,467.77L896.50,467.77L897.50,467.77L898.50,467.77L899.50,467.78L900.50,467.78L901.50,467.78L902.50,467.78L903.50,467.78L904.50,467.78L905.50,467.79L906.50,467.79L907.50,467.79L908.50,467.79L909.50,467.79L910.50,467.79L911.50,467.79L912.50,467.79L913.50,467.79L914.50,467.79L915.50,467.79L916.50,467.79L917.50,467.80L918.50,467.80L919.50,467.80L920.50,467.80L921.50,467.80L922.50,467.80L923.50,467.80L924.50,467.80L925.50,467.80L926.50,467.80L927.50,467.80L928.50,467.80L929.50,467.80L930.50,467.80L931.50,467.80L932.50,467.80L933.50,467.80L934.50,467.80L935.50,467.80L936.50,467.80L937.50,467.80L938.50,467.80L939.50,467.80L940.50,467.80L941.50,467.80L942.50,467.80L943.50,467.80L944.50,467.80L945.50,467.80L946.50,467.80L947.50,467.80L948.50,467.80L949.50,467.80L950.50,467.80L951.50,467.80L952.50,467.80L953.50,467.80L954.50,467.80L955.50,467.80L956.50,467.80L957.50,467.80L958.50,467.80L959.50,467.80L960.50,467.80L961.50,467.80L962.50,467.80L963.50,467.80L964.50,467.80L965.50,467.80L966.50,467.80L967.50,467.80L968.50,467.80L969.50,467.80L970.50,467.80L971.50,467.80L972.50,467.80L973.50,467.80L974.50,467.80L975.50,467.80L976.50,467.80L977.50,467.80L978.50,467.80L979.50,467.80L980.50,467.80L981.50,467.80L982.50,467.80L983.50,467.80L984.50,467.80L985.50,467.80L986.50,467.80L987.50,467.80L988.50,467.80L989.50,467.80L990.50,467.80L991.50,467.80L992.50,467.80L993.50,467.80L994.50,467.80L995.50,467.80L996.50,467.80L997.50,467.80L998.50,467.80L999.50,467.80L1000.50,467.80L1001.50,467.80L1002.50,467.80L1003.50,467.80L1004.50,467.80L1005.50,467.80L1006.50,467.80L1007.50,467.80L1008.50,467.80L1009.50,467.80L1010.50,467.80L1011.50,467.80L1012.50,467.80L1013.50,467.80L1014.50,467.80L1015.50,467.80L1016.50,467.80L1017.50,467.80L1018.50,467.80L1019.50,467.80L1020.50,467.80L1021.50,467.80L1022.50,467.80L1023.50,467.80L1024.50,467.80L1025.50,467.80L1026.50,467.80L1027.50,467.80L1028.50,467.80L1029.50,467.80L1030.50,467.80L1031.50,467.80L1032.50,467.80L1033.50,467.80L1034.50,467.80L1035.50,467.80L1036.50,467.80L1037.50,467.80L1038.50,467.80L1039.50,467.80L1040.50,467.80L1041.50,467.80L1042.50,467.80L1043.50,467.80L1044.50,467.80L1045.50,467.80L1046.50,467.80L1047.50,467.80L1048.50,467.80L1049.50,467.80L1050.50,467.80L1051.50,467.80L1052.50,467.80L1053.50,467.80L1054.50,467.80L1055.50,467.80L1056.50,467.80L1057.50,467.80L1058.50,467.80L1059.50,467.80L1060.50,467.80L1061.50,467.80L1062.50,467.80L1063.50,467.80L1064.50,467.80L1065.50,467.80L1066.50,467.80L1067.50,467.80L1068.50,467.80L1069.50,467.80L1070.50,467.80L1071.50,467.80L1072.50,467.80L1073.50,467.80L1074.50,467.80L1075.50,467.80L1076.50,467.80L1077.50,467.80L1078.50,467.80L1079.50,467.80L1080.50,467.80L1081.50,467.80L1082.50,467.80L1083.50,467.80L1084.50,467.80L1085.50,467.80L1086.50,467.80L1087.50,467.80L1088.50,467.80L1089.50,467.80L1090.50,467.80L1091.50,467.80L1092.50,467.80L1093.50,467.80L1094.50,467.80L1095.50,467.80L1096.50,467.80L1097.50,467.80L1098.50,467.80L1099.50,467.80L1100.50,467.80L1101.50,467.80L1102.50,467.80L1103.50,467.80L1104.50,467.80L1105.50,467.80L1106.50,467.80L1107.50,467.80L1108.50,467.80L1109.50,467.80L1110.50,467.80L1111.50,467.80L1112.50,467.80L1113.50,467.80L1114.50,467.80L1115.50,467.80L1116.50,467.80L1117.50,467.80L1118.50,467.80L1119.50,467.80L1120.50,467.80L1121.50,467.80L1122.50,467.80L1123.50,467.80L1124.50,467.80L1125.50,467.80L1126.50,467.80L1127.50,467.80L1128.50,467.80L1129.50,467.80L1130.50,467.80L1131.50,467.80L1132.50,467.80L1133.50,467.80L1134.50,467.80L1135.50,467.80L1136.50,467.80L1137.50,467.80L1138.50,467.80L1139.50,467.80L1140.50,467.80L1141.50,467.80L1142.50,467.80L1143.50,467.80L1144.50,467.80L1145.50,467.80L1146.50,467.80L1147.50,467.80L1148.50,467.80L1149.50,467.80L1150.50,467.80L1151.50,467.80L1152.50,467.80L1153.50,467.80L1154.50,467.80L1155.50,467.80L1156.50,467.80L1157.50,467.80L1158.50,467.80L1159.50,467.80L1160.50,467.80L1161.50,467.80L1162.50,467.80L1163.50,467.80L1164.50,467.80L1165.50,467.80L1166.50,467.80L1167.50,467.80L1168.50,467.80L1169.50,467.80L1170.50,467.80L1171.50,467.80L1172.50,467.80L1173.50,467.80L1174.50,467.80L1175.50,467.80L1176.50,467.80L1177.50,467.80L1178.50,467.80L1179.50,467.80L1180.50,467.80L1181.50,467.80L1182.50,467.80L1183.50,467.80L1184.50,467.80L1185.50,467.80L1186.50,467.80L1187.50,467.80L1188.50,467.80L1189.50,467.80L1190.50,467.80L1191.50,467.80L1192.50,467.80L1193.50,467.80L1194.50,467.80L1195.50,467.80L1196.50,467.80L1197.50,467.80L1198.50,467.80L1199.50,467.80L1200.50,467.80L1201.50,467.80L1202.50,467.80L1203.50,467.80L1204.50,467.80L1205.50,467.80L1206.50,467.80L1207.50,467.80L1208.50,467.80L1209.50,467.80L1210.50,467.80L1211.50,467.80L1212.50,467.80L1213.50,467.80L1214.50,467.80L1215.50,467.80L1216.50,467.80L1217.50,467.80L1218.50,467.80L1219.50,467.80L1220.50,467.80L1221.50,467.80L1222.50,467.80L1223.50,467.80L1224.50,467.80L1225.50,467.80L1226.50,467.80L1227.50,467.80L1228.50,467.80L1229.50,467.80L1230.50,467.80L1231.50,467.80L1232.50,467.80L1233.50,467.80L1234.50,467.80L1235.50,467.80L1236.50,467.80L1237.50,467.80L1238.50,467.80L1239.50,467.80L1240.50,467.80L1241.50,467.80L1242.50,467.80L1243.50,467.80L1244.50,467.80L1245.50,467.80L1246.50,467.80L1247.50,467.80L1248.50,467.80L1249.50,467.80L1250.50,467.80L1251.50,467.80L1252.50,467.80L1253.50,467.80L1254.50,467.80L1255.50,467.80L1256.50,467.80L1257.50,467.80L1258.50,467.80L1259.50,467.80L1260.50,467.80L1261.50,467.80L1262.50,467.80L1263.50,467.80L1264.50,467.80L1265.50,467.80L1266.50,467.80L1267.50,467.80L1268.50,467.80L1269.50,467.80L1270.50,467.80L1271.50,467.80L1272.50,467.80L1273.50,467.80L1274.50,467.80L1275.50,467.80L1276.50,467.80L1277.50,467.80L1278.50,467.80L1279.50,467.80L1280.50,467.80L1281.50,467.80L1282.50,467.80L1283.50,467.80L1284.50,467.80L1285.50,467.80L1286.50,467.80L1287.50,467.80L1288.50,467.80L1289.50,467.80L1290.50,467.80L1291.50,467.80L1292.50,467.80L1293.50,467.80L1294.50,467.80L1295.50,467.80L1296.50,467.80L1297.50,467.80L1298.50,467.80L1299.50,467.80L1300.50,467.80L1301.50,467.80L1302.50,467.80L1303.50,467.80L1304.50,467.80L1305.50,467.80L1306.50,467.80L1307.50,467.80L1308.50,467.80L1309.50,467.80L1310.50,467.80" stroke="#0000ff" stroke-width="3.7"/>
</g>
<g clip-path="url(#cm)"><line x1="696.3" y1="80.3" x2="696.3" y2="560" stroke="#ff00ff" stroke-width="3.5" stroke-dasharray="26.7 8.36 5 8.36 5 8.36 5 8.36"/></g>
<g font-size="38.6">
<g transform="translate(649.2,645.3) scale(0.96,1)"><text x="-0.3" y="0" xml:space="preserve">V<tspan font-size="23.9" dy="8.4">LSR</tspan><tspan dy="-8.4"> (km s</tspan><tspan font-size="23.9" dy="-14.9">−</tspan><tspan font-size="23.9" dy="-2.4">1</tspan><tspan dy="17.3">)</tspan></text></g>
<g transform="translate(136,370.2) rotate(-90) scale(0.9626,1)">
<text x="0" y="0" xml:space="preserve">T<tspan font-size="23.9" dy="10">A</tspan><tspan dy="-10"> (K)</tspan></text>
<text x="21" y="-17.5" font-size="23.9">*</text>
</g>
</g>
</svg>
</body></html>
